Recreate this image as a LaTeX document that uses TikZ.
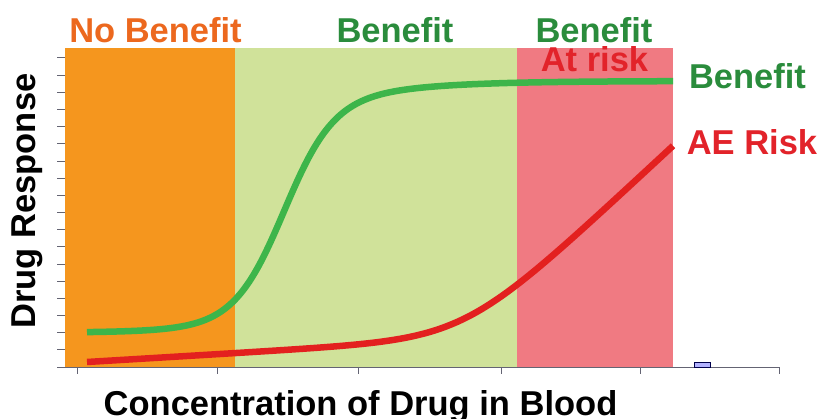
\documentclass[tikz,border=0pt]{standalone}
\usepackage{fontspec}
\setmainfont{Liberation Sans}
\definecolor{orangefill}{RGB}{245,150,30}
\definecolor{greenfill}{RGB}{208,226,154}
\definecolor{redfill}{RGB}{240,122,130}
\definecolor{greenline}{RGB}{61,181,74}
\definecolor{redline}{RGB}{227,32,31}
\definecolor{textorange}{RGB}{236,104,30}
\definecolor{textgreen}{RGB}{42,140,60}
\definecolor{textred}{RGB}{226,35,42}
\definecolor{axisgray}{RGB}{100,100,115}
\begin{document}
\begin{tikzpicture}[x=1pt,y=-1pt,
  lbl/.style={font=\fontsize{34.5}{40}\selectfont\bfseries, inner sep=0pt, anchor=base},
  curve/.style={line width=6.5pt, line cap=butt, line join=round},
  tickline/.style={axisgray, line width=1pt}]
\useasboundingbox[fill=white] (0,0) rectangle (821,419);
% regions
\fill[orangefill] (65,48) rectangle (235,367);
\fill[greenfill] (235,48) rectangle (517,367);
\fill[redfill] (517,48) rectangle (673,367);
% axis
\draw[tickline] (65,367) -- (779,367);
\foreach \i in {0,...,18} {\draw[tickline] (57,{58+\i*17.17}) -- (65,{58+\i*17.17});}
\foreach \x in {77,217,358,501,640,779} {\draw[tickline] (\x,367) -- (\x,374);}
% small box
\draw[draw=black!70!blue, fill=blue!30!white, line width=0.8pt] (694,362) rectangle (710,367);
% curves
\draw[curve, greenline] plot[domain=87:673, samples=120, smooth]
  (\x, {333 - 225/(1+exp(-(\x-284)/25)) - 27/(1+exp(-(\x-330)/70))});
\draw[curve, redline] plot[domain=87:673, samples=120, smooth]
  (\x, {362 - 0.06*(\x-87) - 0.87*35*ln(1+exp((\x-465)/35))});
% labels
\node[lbl, textorange] (nob) at (155.5,43) {No Benefit};
\node[lbl, textgreen] (ben) at (395,43) {Benefit};
\node[lbl, textgreen] (benr) at (594,43) {Benefit};
\node[lbl, textred] (atrisk) at (594.5,72) {At risk};
\node[lbl, textgreen] (benlbl) at (747.5,89) {Benefit};
\node[lbl, textred] (aelbl) at (752,155) {AE Risk};
\node[lbl, black, rotate=90] (ylab) at (35,201) {Drug Response};
\node[lbl, black] (xlab) at (360.5,415) {Concentration of Drug in Blood};
\end{tikzpicture}
\end{document}
